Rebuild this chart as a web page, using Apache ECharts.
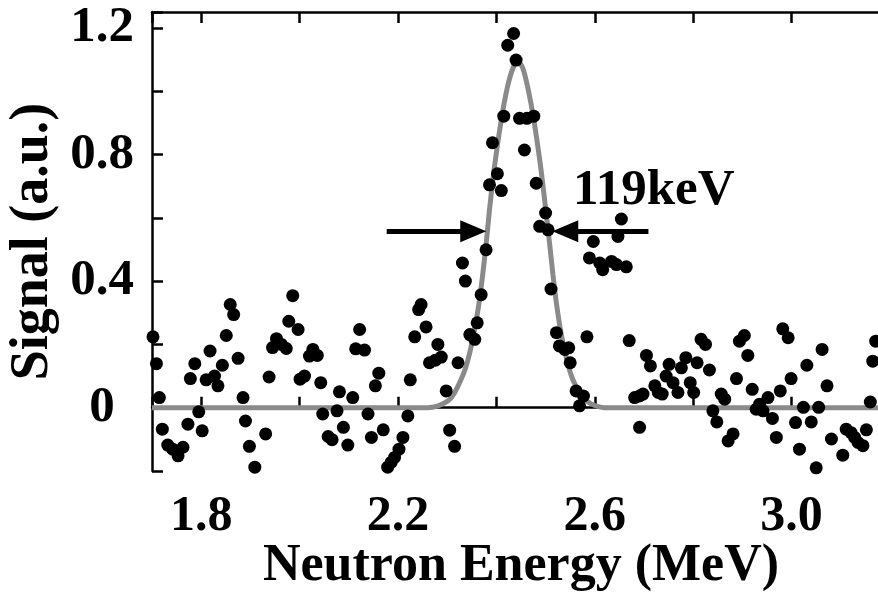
<!DOCTYPE html>
<html>
<head>
<meta charset="utf-8">
<script src="https://cdn.jsdelivr.net/npm/echarts@6/dist/echarts.min.js"></script>
<style>
html,body{margin:0;padding:0;background:#fff;}
#chart{width:878px;height:593px;}
</style>
</head>
<body>
<div id="chart"></div>
<script>
// ---- data ----
const xTickLabels = ['1.8', '2.2', '2.6', '3.0'];
const yTickLabels = ['0', '0.4', '0.8', '1.2'];
const xTitle = 'Neutron Energy (MeV)';
const yTitle = 'Signal (a.u.)';
const widthLabel = '119keV';

// measured signal points [energy MeV, signal a.u.]
const signalPoints = [
  [1.702,0.224],[1.709,0.139],[1.715,0.032],[1.721,-0.068],[1.732,-0.118],[1.742,-0.131],
  [1.753,-0.152],[1.763,-0.125],[1.773,-0.052],[1.778,0.092],[1.787,0.139],[1.795,-0.013],
  [1.802,-0.073],[1.810,0.088],[1.818,0.179],[1.827,0.100],[1.834,0.069],[1.843,0.134],
  [1.851,0.228],[1.859,0.326],[1.866,0.294],[1.875,0.156],[1.885,0.032],[1.890,-0.042],
  [1.898,-0.122],[1.909,-0.188],[1.931,-0.083],[1.938,0.097],[1.945,0.190],[1.953,0.218],
  [1.963,0.200],[1.973,0.187],[1.978,0.273],[1.986,0.354],[1.997,0.247],[2.001,0.090],
  [2.010,0.100],[2.020,0.163],[2.027,0.184],[2.036,0.165],[2.043,0.079],[2.047,-0.020],
  [2.058,-0.091],[2.066,-0.101],[2.076,-0.010],[2.081,0.050],[2.089,-0.062],[2.098,-0.118],
  [2.108,0.032],[2.114,0.186],[2.122,0.247],[2.132,0.182],[2.139,-0.020],[2.146,-0.094],
  [2.154,0.069],[2.161,0.109],[2.170,-0.070],[2.179,-0.188],[2.186,-0.173],[2.193,-0.157],
  [2.202,-0.131],[2.210,-0.094],[2.220,-0.026],[2.225,0.088],[2.234,0.224],[2.242,0.310],
  [2.247,0.326],[2.257,0.255],[2.264,0.142],[2.276,0.150],[2.288,0.160],[2.281,0.200],
  [2.298,0.053],[2.305,-0.071],[2.315,-0.122],[2.322,0.142],[2.331,0.457],[2.337,0.400],
  [2.346,0.231],[2.356,0.216],[2.361,0.268],[2.369,0.357],[2.379,0.499],[2.386,0.704],
  [2.392,0.837],[2.402,0.739],[2.410,0.686],[2.415,0.921],[2.423,1.145],[2.435,1.182],
  [2.440,1.098],[2.447,0.914],[2.457,0.814],[2.462,0.914],[2.476,0.921],[2.481,0.709],
  [2.488,0.573],[2.500,0.615],[2.505,0.562],[2.511,0.375],[2.522,0.237],[2.528,0.195],
  [2.539,0.184],[2.547,0.189],[2.550,0.142],[2.562,0.053],[2.569,0.006],[2.577,0.037],
  [2.584,0.224],[2.589,0.473],[2.597,0.525],[2.610,0.457],[2.616,0.436],[2.634,0.462],
  [2.644,0.452],[2.647,0.541],[2.654,0.596],[2.664,0.445],[2.670,0.212],
  [2.681,0.032],[2.691,0.037],[2.698,0.043],[2.691,-0.062],[2.705,0.165],[2.713,0.132],
  [2.722,0.069],[2.729,0.048],[2.737,0.043],[2.745,0.100],[2.751,0.137],[2.759,0.079],
  [2.769,0.048],[2.776,0.126],[2.785,0.158],[2.794,0.079],[2.801,0.048],[2.808,0.142],
  [2.816,0.216],[2.825,0.200],[2.833,0.119],[2.840,-0.010],[2.848,-0.045],[2.857,0.043],
  [2.864,0.027],[2.871,-0.105],[2.881,-0.083],[2.888,0.092],[2.894,0.210],[2.904,0.228],
  [2.911,0.165],[2.920,0.058],[2.928,-0.005],[2.935,0.011],[2.942,-0.010],[2.952,0.032],
  [2.961,-0.034],[2.969,-0.094],[2.977,0.053],[2.982,0.249],[2.993,0.221],[2.999,0.092],
  [3.008,-0.047],[3.016,-0.131],[3.024,0.001],[3.031,0.134],[3.040,-0.045],[3.050,-0.190],
  [3.055,0.001],[3.062,0.184],[3.072,0.069],[3.081,-0.099],[3.104,-0.150],[3.111,-0.068],
  [3.121,-0.079],[3.128,-0.094],[3.135,-0.110],[3.145,-0.120],[3.152,-0.070],[3.160,0.018],
  [3.165,0.147],[3.171,0.210]
];

// fitted peak curve
const fitCurve = [
  [1.70,0],[2.26,0],[2.28,0.005],[2.30,0.02],[2.31,0.035],[2.321,0.065],[2.335,0.115],
  [2.346,0.175],[2.356,0.25],[2.366,0.345],[2.378,0.50],[2.386,0.625],[2.396,0.76],
  [2.41,0.91],[2.422,1.01],[2.433,1.07],[2.443,1.095],[2.453,1.075],[2.464,1.01],
  [2.476,0.91],[2.49,0.76],[2.50,0.63],[2.508,0.52],[2.515,0.42],[2.522,0.33],
  [2.532,0.23],[2.545,0.14],[2.555,0.09],[2.57,0.045],[2.585,0.02],[2.60,0.007],
  [2.62,0],[3.20,0]
];

// FWHM arrows: [start, head-centre] in data coordinates
const fwhmLevel = 0.557;
const leftArrow = [2.177, 2.353];
const rightArrow = [2.709, 2.540];

const fontFamily = '"Liberation Serif", "Times New Roman", serif';
const chart = echarts.init(document.getElementById('chart'), null, {renderer: 'canvas'});

function fmtX(v) {
  const s = (Math.round(v * 10) / 10).toFixed(1);
  return xTickLabels.indexOf(s) >= 0 ? s : '';
}
function fmtY(v) {
  const s = Math.abs(v) < 1e-9 ? '0' : (Math.round(v * 10) / 10).toFixed(1);
  return yTickLabels.indexOf(s) >= 0 ? s : '';
}

const axisLineStyle = {color: '#000', width: 2.5};
const tickStyle = {color: '#000', width: 2.5};

chart.setOption({
  animation: false,
  backgroundColor: '#fff',
  grid: {left: 152, top: 12, width: 738, height: 459, containLabel: false, outerBoundsMode: 'none'},
  xAxis: [{
    type: 'value', position: 'bottom', min: 1.7, max: 3.2, splitNumber: 7,
    axisLine: {show: true, lineStyle: axisLineStyle},
    axisTick: {show: true, inside: true, length: 11, lineStyle: tickStyle},
    splitLine: {show: false},
    axisLabel: {show: true, formatter: fmtX, margin: 21, color: '#000',
      fontFamily: fontFamily, fontWeight: 'bold', fontSize: 50,
      showMinLabel: true, showMaxLabel: true},
    name: xTitle, nameLocation: 'middle', nameGap: 70, nameMoveOverlap: false,
    nameTextStyle: {color: '#000', fontFamily: fontFamily, fontWeight: 'bold', fontSize: 52}
  }, {
    type: 'value', position: 'top', min: 1.7, max: 3.2, splitNumber: 7,
    axisLine: {show: true, lineStyle: axisLineStyle},
    axisTick: {show: true, inside: true, length: 11, lineStyle: tickStyle},
    splitLine: {show: false},
    axisLabel: {show: false}
  }],
  yAxis: [{
    type: 'value', min: -0.2, max: 1.25, interval: 0.2,
    axisLine: {show: true, lineStyle: axisLineStyle},
    axisTick: {show: true, inside: true, length: 11, lineStyle: tickStyle},
    splitLine: {show: false},
    axisLabel: {show: true, formatter: fmtY, margin: 50, align: 'center', color: '#000',
      fontFamily: fontFamily, fontWeight: 'bold', fontSize: 51,
      showMinLabel: true, showMaxLabel: true},
    name: yTitle, nameLocation: 'middle', nameGap: 92, nameRotate: 90, nameMoveOverlap: false,
    nameTextStyle: {color: '#000', fontFamily: fontFamily, fontWeight: 'bold', fontSize: 54}
  }],
  series: [{
    type: 'line', data: fitCurve, showSymbol: false, symbol: 'none', smooth: 0.3,
    lineStyle: {color: '#8a8a8a', width: 5}, z: 2, silent: true,
    markLine: {
      silent: true, symbol: ['none', 'triangle'], symbolSize: [22, 26],
      label: {show: false},
      lineStyle: {color: '#000', width: 5, type: 'solid'},
      itemStyle: {color: '#000'},
      data: [
        [{coord: [leftArrow[0], fwhmLevel]}, {coord: [leftArrow[1], fwhmLevel]}],
        [{coord: [rightArrow[0], fwhmLevel]}, {coord: [rightArrow[1], fwhmLevel]}]
      ]
    }
  }, {
    type: 'scatter', data: signalPoints, symbol: 'circle', symbolSize: 13,
    itemStyle: {color: '#000', opacity: 1}, z: 3, silent: true, clip: true
  }],
  graphic: [{
    type: 'text', left: 573, top: 165, silent: true,
    style: {text: widthLabel, fill: '#000', font: 'bold 51px ' + fontFamily}
  }]
});
</script>
</body>
</html>
